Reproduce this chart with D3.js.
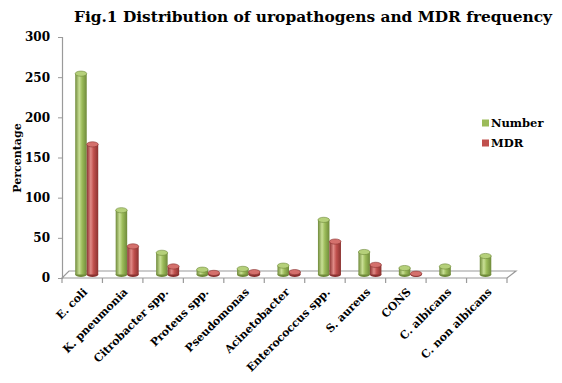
<!DOCTYPE html>
<html>
<head>
<meta charset="utf-8">
<style type="text/css">
html, body{
	padding: 0;
	margin: 0;
	background: white;
}
svg text {
	font-family: "DejaVu Serif", "Liberation Serif", serif !important;
	font-weight: bold;
	fill: #000;
}
</style>
</head>
<body>
<svg width=562 height=383></svg>
<script src="https://cdn.jsdelivr.net/npm/d3@7/dist/d3.min.js"></script>
<script type="text/javascript">
// data
var categories = ['E. coli','K. pneumonia','Citrobacter spp.','Proteus spp.','Pseudomonas','Acinetobacter','Enterococcus spp.','S. aureus','CONS','C. albicans','C. non albicans'];
var numberVals = [250, 80, 27, 6, 7, 11, 68, 28, 8, 10, 23];
var mdrVals = [162, 35, 10, 2, 3, 3, 41, 12, 1, 0, 0];
var seriesNames = ['Number','MDR'];
var yTicks = [0, 50, 100, 150, 200, 250, 300];

var svg = d3.select('svg');
var depth = 7;

var x = d3.scaleBand().domain(categories).range([62, 507]).padding(0);
var inner = d3.scaleBand().domain(seriesNames).range([0, 23]);
var y = d3.scaleLinear().domain([0, 300]).range([278, 37]);

var cols = {
	Number: {base:'#9bbb59', light:'#c9df95', dark:'#6f8a3a', top:'#b5d07a'},
	MDR: {base:'#c0504d', light:'#e08a86', dark:'#8a3230', top:'#d4706c'}
};

var defs = svg.append('defs');
seriesNames.forEach(s=>{
	var g = defs.append('linearGradient').attr('id','g_'+s).attr('x1','0').attr('x2','1');
	g.append('stop').attr('offset','0%').attr('stop-color',cols[s].dark);
	g.append('stop').attr('offset','35%').attr('stop-color',cols[s].light);
	g.append('stop').attr('offset','60%').attr('stop-color',cols[s].base);
	g.append('stop').attr('offset','100%').attr('stop-color',cols[s].dark);
})

// floor
var x0 = x.range()[0], x1 = x.range()[1], yb = y(0);
svg.append('path')
	.attr('d','M'+x0+','+yb+'L'+(x0+depth)+','+(yb-depth)+'L'+(x1+depth+2)+','+(yb-depth)+'L'+x1+','+yb+'Z')
	.style('fill','white').style('stroke','#9a9a9a').style('stroke-width',1.2);

// category tick marks
svg.selectAll('.xt').data(categories.concat(['end']))
	.enter().append('line')
	.attr('x1',(d,p)=>x0+p*x.bandwidth()).attr('x2',(d,p)=>x0+p*x.bandwidth())
	.attr('y1',yb).attr('y2',yb+5)
	.style('stroke','#9a9a9a').style('stroke-width',1.2);

// y axis
var yAxis = svg.append('g').attr('transform','translate(62,0)')
	.call(d3.axisLeft(y).tickValues(yTicks).tickSize(4).tickPadding(8));
yAxis.attr('font-family',null);
yAxis.select('.domain').style('stroke','#9a9a9a').style('stroke-width',1.2);
yAxis.selectAll('line').style('stroke','#9a9a9a');
yAxis.selectAll('text').style('font-size','12px');

// cylinders
var ry = 2.6;
var rows = [];
categories.forEach((c,p)=>{
	rows.push({cat:c, s:'Number', v:numberVals[p]});
	rows.push({cat:c, s:'MDR', v:mdrVals[p]});
})
rows = rows.filter(d=>d.v>0);

var bars = svg.selectAll('.bar').data(rows).enter().append('g');
var bw = inner.bandwidth();
var bx = d=>x(d.cat)+x.bandwidth()/2+4.5-11.5+inner(d.s);
var base = yb-3.5;
var topY = d=>y(d.v)-3.5;

bars.append('ellipse')
	.attr('cx',d=>bx(d)+bw/2).attr('cy',base).attr('rx',bw/2).attr('ry',ry)
	.style('fill',d=>cols[d.s].dark);
bars.append('rect')
	.attr('x',bx).attr('y',topY).attr('width',bw).attr('height',d=>base-topY(d))
	.style('fill',d=>'url(#g_'+d.s+')');
bars.append('ellipse')
	.attr('cx',d=>bx(d)+bw/2).attr('cy',topY).attr('rx',bw/2).attr('ry',ry)
	.style('fill',d=>cols[d.s].top).style('stroke',d=>cols[d.s].dark).style('stroke-width',0.6);

// x labels
svg.selectAll('.xl').data(categories).enter().append('text')
	.attr('transform',d=>'translate('+(x(d)+x.bandwidth()/2+3)+',290) rotate(-45)')
	.attr('text-anchor','end')
	.attr('dy','0.35em')
	.style('font-size','11px')
	.text(d=>d);

// y title
svg.append('text')
	.attr('transform','translate(21,158) rotate(-90)')
	.attr('text-anchor','middle')
	.style('font-size','11px')
	.text('Percentage');

// title
svg.append('text')
	.attr('x',313).attr('y',22)
	.attr('text-anchor','middle')
	.style('font-size','15.4px')
	.text('Fig.1 Distribution of uropathogens and MDR frequency');

// legend
var leg = svg.selectAll('.leg').data(seriesNames).enter().append('g')
	.attr('transform',(d,p)=>'translate(482,'+(123+p*20)+')');
leg.append('rect').attr('x',0).attr('y',-3.5).attr('width',7).attr('height',7)
	.style('fill',d=>cols[d].base);
leg.append('text').attr('x',9).attr('dy','0.35em').style('font-size','11.5px').text(d=>d);
</script>
</body>
</html>
